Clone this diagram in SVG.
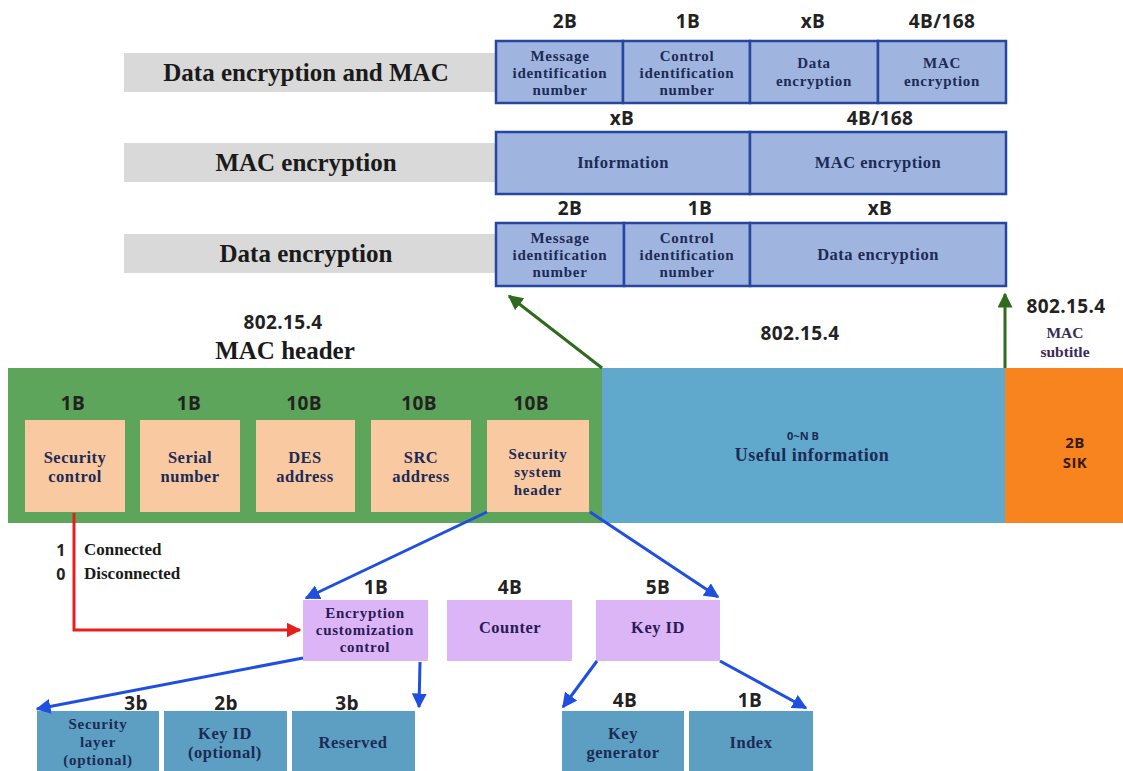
<svg xmlns="http://www.w3.org/2000/svg" width="1123" height="771" viewBox="0 0 1123 771">
<style>
.sz{font-family:"Open Sans","Liberation Sans",sans-serif;font-weight:700;font-size:19px;letter-spacing:0.4px;fill:#222;text-anchor:middle}
.sr{font-family:"Liberation Serif",serif;font-weight:700;text-anchor:middle}
.bt{font-size:15px;letter-spacing:0.7px;fill:#1c2a55}
.bt1{font-size:16.5px;letter-spacing:0.5px;fill:#1c2a55}
.gl{fill:#d9d9d9}
.tb{fill:#9fb5df;stroke:#2746a0;stroke-width:2.5}
.pc{fill:#f9c9a1}
.pu{fill:#dcb5f7}
.bl{fill:#5d9fc2}
.pt{fill:#2a1a55}
.big{font-size:25px;fill:#1a1a1a}
.lbl{font-size:17px;fill:#1a1a1a;text-anchor:start}
</style>
<defs>
<marker id="ab" viewBox="0 0 10 10" refX="9" refY="5" markerWidth="5" markerHeight="5" orient="auto"><path d="M0,0L10,5L0,10z" fill="#1f4fe0"/></marker>
<marker id="ar" viewBox="0 0 10 10" refX="9" refY="5" markerWidth="5" markerHeight="5" orient="auto"><path d="M0,0L10,5L0,10z" fill="#e61e1e"/></marker>
<marker id="ag" viewBox="0 0 10 10" refX="9" refY="5" markerWidth="5" markerHeight="5" orient="auto"><path d="M0,0L10,5L0,10z" fill="#2f6a1e"/></marker>
</defs>
<rect width="1123" height="771" fill="#ffffff"/>

<g id="mode-labels">
<rect class="gl" x="124" y="53" width="372" height="39"/>
<text class="sr big" x="306" y="81">Data encryption and MAC</text>
<rect class="gl" x="124" y="143" width="372" height="39"/>
<text class="sr big" x="306" y="171">MAC encryption</text>
<rect class="gl" x="124" y="234" width="372" height="39"/>
<text class="sr big" x="306" y="262">Data encryption</text>
</g>

<g id="row-data-mac">
<text class="sz" x="565" y="28">2B</text>
<text class="sz" x="688" y="28">1B</text>
<text class="sz" x="813" y="28">xB</text>
<text class="sz" x="942" y="28">4B/168</text>
<rect class="tb" x="496" y="41" width="127" height="62"/>
<rect class="tb" x="623" y="41" width="127" height="62"/>
<rect class="tb" x="750" y="41" width="128" height="62"/>
<rect class="tb" x="878" y="41" width="128" height="62"/>
<text class="sr bt" x="560" y="61">Message</text><text class="sr bt" x="560" y="78">identification</text><text class="sr bt" x="560" y="95">number</text>
<text class="sr bt" x="687" y="61">Control</text><text class="sr bt" x="687" y="78">identification</text><text class="sr bt" x="687" y="95">number</text>
<text class="sr bt" x="814" y="68">Data</text><text class="sr bt" x="814" y="86">encryption</text>
<text class="sr bt" x="942" y="68">MAC</text><text class="sr bt" x="942" y="86">encryption</text>
</g>

<g id="row-mac">
<text class="sz" x="622" y="125">xB</text>
<text class="sz" x="880" y="125">4B/168</text>
<rect class="tb" x="496" y="132" width="254" height="62"/>
<rect class="tb" x="750" y="132" width="256" height="62"/>
<text class="sr bt1" x="623" y="168">Information</text>
<text class="sr bt1" x="878" y="168">MAC encryption</text>
</g>

<g id="row-data">
<text class="sz" x="570" y="215">2B</text>
<text class="sz" x="700" y="215">1B</text>
<text class="sz" x="880" y="215">xB</text>
<rect class="tb" x="496" y="223" width="128" height="63"/>
<rect class="tb" x="624" y="223" width="126" height="63"/>
<rect class="tb" x="750" y="223" width="256" height="63"/>
<text class="sr bt" x="560" y="243">Message</text><text class="sr bt" x="560" y="260">identification</text><text class="sr bt" x="560" y="277">number</text>
<text class="sr bt" x="687" y="243">Control</text><text class="sr bt" x="687" y="260">identification</text><text class="sr bt" x="687" y="277">number</text>
<text class="sr bt1" x="878" y="260">Data encryption</text>
</g>

<g id="mac-header">
<text class="sz" x="283" y="329">802.15.4</text>
<text class="sr big" x="285" y="359">MAC header</text>
<rect x="8" y="368" width="594" height="155" fill="#5da55a"/>
</g>

<g id="payload">
<text class="sz" x="800" y="340">802.15.4</text>
<rect x="602" y="368" width="403" height="155" fill="#60a9cc"/>
<text x="803" y="440" font-family="Open Sans, Liberation Sans, sans-serif" font-weight="700" font-size="11" fill="#1c2a55" text-anchor="middle">0~N B</text>
<text class="sr" x="812" y="461" font-size="18" letter-spacing="0.5" fill="#1c2a55">Useful information</text>
</g>

<g id="mac-footer">
<text class="sz" x="1066" y="313">802.15.4</text>
<text class="sr" x="1065" y="338" font-size="15.5" fill="#3a2a55">MAC</text>
<text class="sr" x="1065" y="357" font-size="15.5" fill="#3a2a55">subtitle</text>
<rect x="1005" y="368" width="118" height="155" fill="#f7841f"/>
<text class="sz" x="1075" y="448" style="font-size:15px;fill:#3a1a0a">2B</text>
<text class="sz" x="1075" y="468" style="font-size:15px;fill:#3a1a0a">SIK</text>
</g>

<g id="security-control">
<text class="sz" x="73" y="410">1B</text>
<rect class="pc" x="25" y="420" width="100" height="92"/>
<text class="sr bt1" x="75" y="463">Security</text><text class="sr bt1" x="75" y="482">control</text>
</g>
<g id="serial-number">
<text class="sz" x="189" y="410">1B</text>
<rect class="pc" x="140" y="420" width="100" height="92"/>
<text class="sr bt1" x="190" y="463">Serial</text><text class="sr bt1" x="190" y="482">number</text>
</g>
<g id="des-address">
<text class="sz" x="304" y="410">10B</text>
<rect class="pc" x="256" y="420" width="99" height="92"/>
<text class="sr bt1" x="305" y="463">DES</text><text class="sr bt1" x="305" y="482">address</text>
</g>
<g id="src-address">
<text class="sz" x="419" y="410">10B</text>
<rect class="pc" x="371" y="420" width="100" height="92"/>
<text class="sr bt1" x="421" y="463">SRC</text><text class="sr bt1" x="421" y="482">address</text>
</g>
<g id="security-header">
<text class="sz" x="531" y="410">10B</text>
<rect class="pc" x="487" y="420" width="102" height="92"/>
<text class="sr bt" x="538" y="459">Security</text><text class="sr bt" x="538" y="477">system</text><text class="sr bt" x="538" y="495">header</text>
</g>

<g id="legend">
<text class="sz" x="61" y="556" style="font-size:16px">1</text>
<text class="sr lbl" x="84" y="555">Connected</text>
<text class="sz" x="61" y="580" style="font-size:16px">0</text>
<text class="sr lbl" x="84" y="579">Disconnected</text>
</g>

<g id="enc-control">
<text class="sz" x="376" y="594">1B</text>
<rect class="pu" x="303" y="600" width="125" height="61"/>
<text class="sr bt pt" x="365" y="618">Encryption</text><text class="sr bt pt" x="365" y="635">customization</text><text class="sr bt pt" x="365" y="652">control</text>
</g>
<g id="counter">
<text class="sz" x="510" y="594">4B</text>
<rect class="pu" x="447" y="600" width="125" height="61"/>
<text class="sr bt1 pt" x="510" y="633">Counter</text>
</g>
<g id="key-id">
<text class="sz" x="658" y="594">5B</text>
<rect class="pu" x="596" y="600" width="124" height="61"/>
<text class="sr bt1 pt" x="658" y="633">Key ID</text>
</g>

<g id="security-layer">
<text class="sz" x="136" y="710">3b</text>
<rect class="bl" x="37" y="711" width="122" height="60"/>
<text class="sr bt" x="98" y="729">Security</text><text class="sr bt" x="98" y="747">layer</text><text class="sr bt" x="98" y="765">(optional)</text>
</g>
<g id="key-id-opt">
<text class="sz" x="226" y="710">2b</text>
<rect class="bl" x="164" y="711" width="123" height="60"/>
<text class="sr bt1" x="225" y="739">Key ID</text><text class="sr bt1" x="225" y="758">(optional)</text>
</g>
<g id="reserved">
<text class="sz" x="347" y="710">3b</text>
<rect class="bl" x="292" y="711" width="123" height="60"/>
<text class="sr bt1" x="353" y="748">Reserved</text>
</g>
<g id="key-generator">
<text class="sz" x="625" y="707">4B</text>
<rect class="bl" x="562" y="711" width="122" height="60"/>
<text class="sr bt1" x="623" y="739">Key</text><text class="sr bt1" x="623" y="758">generator</text>
</g>
<g id="index">
<text class="sz" x="750" y="707">1B</text>
<rect class="bl" x="689" y="711" width="124" height="60"/>
<text class="sr bt1" x="751" y="748">Index</text>
</g>

<g id="connectors" fill="none" stroke-width="3">
<path d="M602,368L509,296" stroke="#2f6a1e" marker-end="url(#ag)"/>
<path d="M1005,368L1005,294" stroke="#2f6a1e" marker-end="url(#ag)"/>
<path d="M74,513L74,630L300,630" stroke="#e61e1e" marker-end="url(#ar)"/>
<path d="M487,512L306,598" stroke="#1f4fe0" marker-end="url(#ab)"/>
<path d="M590,512L718,597" stroke="#1f4fe0" marker-end="url(#ab)"/>
<path d="M303,658L37,709" stroke="#1f4fe0" marker-end="url(#ab)"/>
<path d="M420,662L419,707" stroke="#1f4fe0" marker-end="url(#ab)"/>
<path d="M597,661L563,707" stroke="#1f4fe0" marker-end="url(#ab)"/>
<path d="M720,661L806,708" stroke="#1f4fe0" marker-end="url(#ab)"/>
</g>
</svg>
